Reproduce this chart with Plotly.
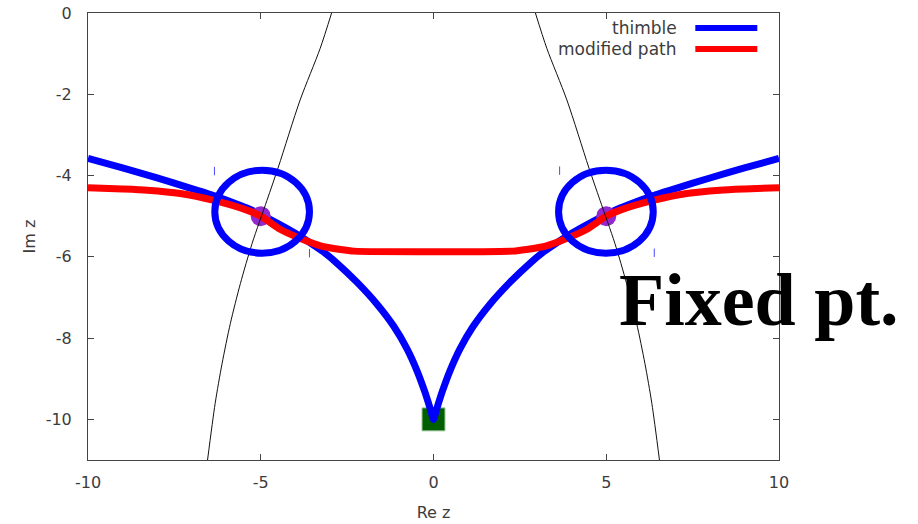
import plotly.graph_objects as go

# Steepest-descent thimble through the two saddles
thimble_x = [-10, -9, -8, -7, -6.36, -6, -5.4, -5, -4.5, -4, -3.56, -3.2, -2.79, -2.21, -1.64,
             -1.15, -0.77, -0.48, -0.24, -0.08, 0,
             0.08, 0.24, 0.48, 0.77, 1.15, 1.64, 2.21, 2.79, 3.2, 3.56, 4, 4.5, 5, 5.4, 6, 6.36,
             7, 8, 9, 10]
thimble_y = [-3.58, -3.81, -4.06, -4.32, -4.49, -4.60, -4.80, -4.96, -5.18, -5.42, -5.66, -5.87,
             -6.16, -6.63, -7.16, -7.71, -8.26, -8.80, -9.35, -9.78, -10.0,
             -9.78, -9.35, -8.80, -8.26, -7.71, -7.16, -6.63, -6.16, -5.87, -5.66, -5.42, -5.18,
             -4.96, -4.80, -4.60, -4.49, -4.32, -4.06, -3.81, -3.58]

# Deformed integration contour
path_x = [-10, -9, -8.29, -7.33, -6.36, -5.4, -5, -4.44, -3.85, -3.27, -2.69, -2.3,
          2.3, 2.69, 3.27, 3.85, 4.44, 5, 5.4, 6.36, 7.33, 8.29, 9, 10]
path_y = [-4.30, -4.33, -4.36, -4.44, -4.61, -4.85, -5.00, -5.32, -5.55, -5.73, -5.82, -5.86,
          -5.86, -5.82, -5.73, -5.55, -5.32, -5.00, -4.85, -4.61, -4.44, -4.36, -4.33, -4.30]

# Anti-thimble branches (thin black)
left_branch_x = [-2.95, -3.28, -3.86, -4.49, -4.82, -5.25, -5.59, -5.88, -6.12, -6.32, -6.54]
left_branch_y = [0, -0.87, -2.14, -3.79, -4.61, -5.67, -6.66, -7.64, -8.63, -9.61, -11.0]
right_branch_x = [2.95, 3.28, 3.86, 4.49, 4.82, 5.25, 5.59, 5.88, 6.12, 6.32, 6.54]
right_branch_y = [0, -0.87, -2.14, -3.79, -4.61, -5.67, -6.66, -7.64, -8.63, -9.61, -11.0]

# Saddle points and the fixed point
saddle_x = [-5, 5]
saddle_y = [-5, -5]
fixed_x = [0]
fixed_y = [-10]

# Small marks along the curves
mark_x = [-6.34, -3.59, 3.65, 6.39]
mark_y = [-3.89, -5.91, -3.88, -5.90]

# Highlight ellipses around the saddles: centre x, centre y, half-width, half-height
ring_cx = [-4.96, 4.99]
ring_cy = [-4.89, -4.89]
ring_rx = [1.37, 1.37]
ring_ry = [1.02, 1.02]

x_ticks = [-10, -5, 0, 5, 10]
x_labels = ["-10", "-5", "0", "5", "10"]
y_ticks = [0, -2, -4, -6, -8, -10]
y_labels = ["0", "-2", "-4", "-6", "-8", "-10"]

BLUE = "#0000ff"
RED = "#ff0000"
TXT = "#3c3c3c"
FONT = "DejaVu Sans"

fig = go.Figure()

fig.add_trace(go.Scatter(x=fixed_x, y=fixed_y, mode="markers",
                         marker=dict(size=23, symbol="square", color="#006000",
                                     line=dict(color="#9fc89f", width=1)),
                         showlegend=False))
fig.add_trace(go.Scatter(x=thimble_x, y=thimble_y, mode="lines", name="thimble",
                         line=dict(color=BLUE, width=7, shape="spline", smoothing=0.5),
                         showlegend=False))
fig.add_trace(go.Scatter(x=saddle_x, y=saddle_y, mode="markers",
                         marker=dict(size=20, color="#9428d0"), showlegend=False))
fig.add_trace(go.Scatter(x=path_x, y=path_y, mode="lines", name="modified path",
                         line=dict(color=RED, width=7, shape="spline", smoothing=0.6),
                         showlegend=False))
fig.add_trace(go.Scatter(x=mark_x, y=mark_y, mode="markers",
                         marker=dict(symbol="line-ns", size=6,
                                     line=dict(color="#4a4aff", width=1)),
                         showlegend=False))
for bx, by in ((left_branch_x, left_branch_y), (right_branch_x, right_branch_y)):
    fig.add_trace(go.Scatter(x=bx, y=by, mode="lines",
                             line=dict(color="#111111", width=1, shape="spline", smoothing=0.8),
                             showlegend=False))

for cx, cy, rx, ry in zip(ring_cx, ring_cy, ring_rx, ring_ry):
    fig.add_shape(type="circle", xref="x", yref="y",
                  x0=cx - rx, x1=cx + rx, y0=cy - ry, y1=cy + ry,
                  line=dict(color=BLUE, width=7))

# Legend drawn with text on the left and the line sample on the right
legend_rows = [("thimble", BLUE, 0.9664), ("modified path", RED, 0.9195)]
for label, colour, yy in legend_rows:
    fig.add_annotation(x=0.8557, y=yy, xref="paper", yref="paper", text=label,
                       showarrow=False, xanchor="right", yanchor="middle",
                       font=dict(family=FONT, size=17, color=TXT))
    fig.add_shape(type="line", xref="paper", yref="paper",
                  x0=0.8789, x1=0.9686, y0=yy, y1=yy,
                  line=dict(color=colour, width=6))

fig.add_annotation(x=0.9715, y=0.358, xref="paper", yref="paper", text="<b>Fixed pt.</b>",
                   showarrow=False, xanchor="center", yanchor="middle",
                   font=dict(family="Liberation Serif", size=74, color="#000000"))

axis_common = dict(showline=True, linecolor="#444444", linewidth=1, mirror="ticks",
                   ticks="inside", ticklen=6, tickcolor="#444444", showgrid=False,
                   zeroline=False, automargin=False,
                   tickfont=dict(family=FONT, size=16, color=TXT))

fig.update_xaxes(range=[-10, 10], tickvals=x_ticks, ticktext=x_labels, ticklabelstandoff=8,
                 title=dict(text="Re z", font=dict(family=FONT, size=16, color=TXT), standoff=15),
                 **axis_common)
fig.update_yaxes(range=[-11, 0], tickvals=y_ticks, ticktext=y_labels, ticklabelstandoff=12,
                 title=dict(text="Im z", font=dict(family=FONT, size=16, color=TXT), standoff=6),
                 **axis_common)

fig.update_layout(width=918, height=524, margin=dict(l=88, r=139, t=13, b=64),
                  plot_bgcolor="white", paper_bgcolor="white", showlegend=False)

fig.write_html("out.html")
